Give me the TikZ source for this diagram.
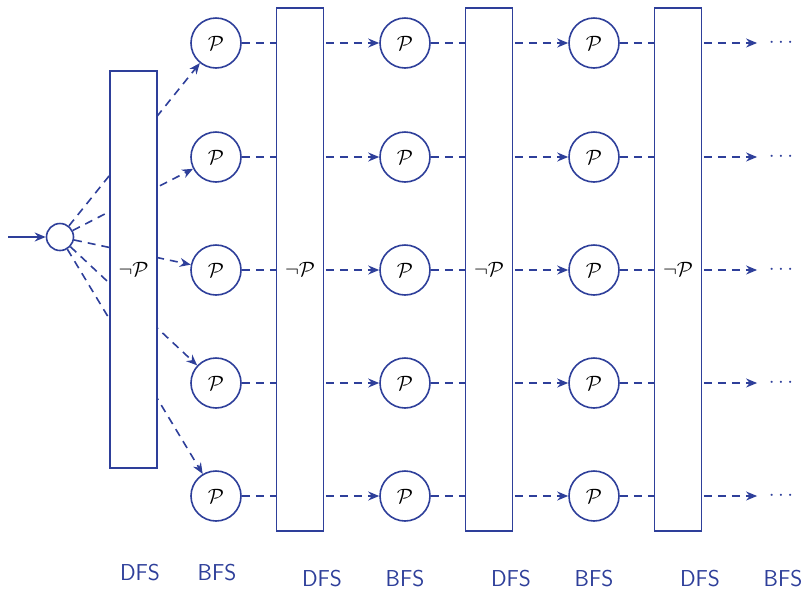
\documentclass[tikz,border=0pt]{standalone}
\usetikzlibrary{arrows.meta}
\definecolor{ink}{HTML}{2E3F9A}
\begin{document}
\begin{tikzpicture}[x=1pt,y=-1pt,
  line width=1.6pt,
  every node/.style={font=\fontsize{22}{24}\selectfont},
  pnode/.style={circle,draw=ink,fill=white,minimum size=50pt,inner sep=0pt},
  gate/.style={draw=ink,fill=white,minimum width=47pt,inner sep=0pt},
  flow/.style={draw=ink,dash pattern=on 8pt off 6pt},
  tip/.style={-{Stealth[length=11pt,width=9pt]}},
  lbl/.style={text=ink,inner sep=0pt,font=\sffamily\fontsize{23}{25}\selectfont}]
\useasboundingbox (0,0) rectangle (804,590);

% entry point and split node
\coordinate (in) at (8,237);
\node[circle,draw=ink,fill=white,minimum size=27pt,inner sep=0pt] (s) at (60,237) {};
\draw[ink,tip] (in) -- (s);

% grid of P nodes
\foreach \c/\x in {1/216,2/405,3/594}{
  \foreach \r/\y in {1/43,2/157,3/270,4/383,5/496}{
    \node[pnode] (p\c\r) at (\x,\y) {$\mathcal{P}$};
  }
}
% trailing continuation marks
\foreach \r/\y in {1/43,2/157,3/270,4/383,5/496}{
  \node[inner ysep=0pt,inner xsep=11pt,text=ink] (d\r) at (781,\y) {$\cdots$};
}

% fan-out from the split node
\foreach \r in {1,...,5}{
  \draw[flow,tip] (s) -- (p1\r);
}
% horizontal flows between columns
\foreach \r in {1,...,5}{
  \draw[flow,tip] (p1\r) -- (p2\r);
  \draw[flow,tip] (p2\r) -- (p3\r);
  \draw[flow,tip] (p3\r.east) -- (d\r.west);
}

% negated-predicate barriers
\node[gate,minimum height=397pt] (g1) at (133.5,269.5) {};
\node[gate,minimum height=523pt] (g2) at (300,269.5) {};
\node[gate,minimum height=523pt] (g3) at (489,269.5) {};
\node[gate,minimum height=523pt] (g4) at (678,269.5) {};
\foreach \g in {1,...,4}{
  \node at (g\g) {$\neg\mathcal{P}$};
}

% search strategy labels
\node[lbl] (l1) at (140,573) {DFS};
\node[lbl] (l2) at (217,573) {BFS};
\node[lbl] (l3) at (322,579) {DFS};
\node[lbl] (l4) at (405,579) {BFS};
\node[lbl] (l5) at (511,579) {DFS};
\node[lbl] (l6) at (594,579) {BFS};
\node[lbl] (l7) at (700,579) {DFS};
\node[lbl] (l8) at (783,579) {BFS};
\end{tikzpicture}
\end{document}
